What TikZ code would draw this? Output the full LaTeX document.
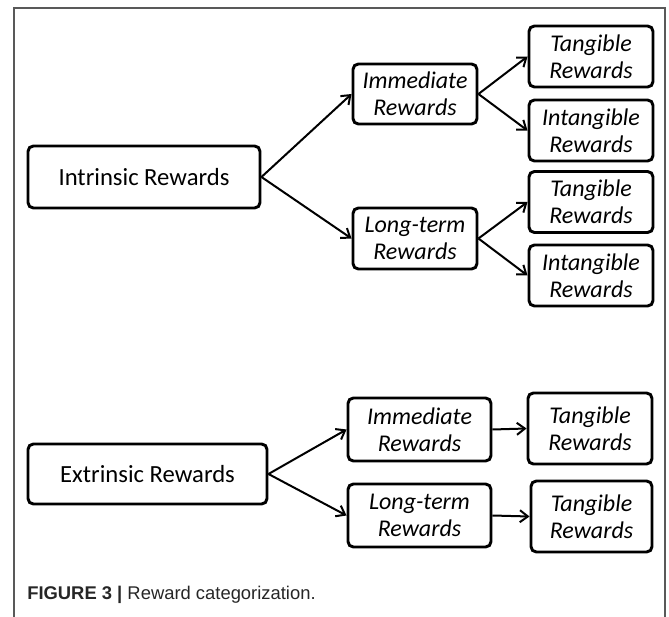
\documentclass[tikz,border=0pt]{standalone}
\usepackage{fontspec}
\setmainfont{Carlito}
\newfontfamily\capfont{Liberation Sans}
\usetikzlibrary{arrows.meta}

\begin{document}
\begin{tikzpicture}[x=0.75pt,y=-0.75pt,
	>={Straight Barb[length=6pt,width=9pt]},
	main node/.style = {rectangle,draw,rounded corners=4pt,line width=2.2pt,
		inner sep=0pt,font=\fontsize{18.5}{22}\selectfont},
	sub node/.style = {rectangle,draw,rounded corners=4pt,line width=2.2pt,
		inner sep=0pt,align=center,font=\fontsize{18}{20}\selectfont\itshape},
	link/.style = {->,line width=1.5pt}]
	
	\useasboundingbox (0,0) rectangle (669,617);
	\draw[gray!70!black,line width=1pt] (14,617)--(14,8)--(665,8)--(665,617);
	
	% intrinsic branch
	\node[main node,minimum width=174pt,minimum height=46.5pt] (intr) at (144,177) {Intrinsic Rewards};
	\node[sub node,minimum width=93pt,minimum height=45pt] (imm1) at (415,94) {Immediate\\Rewards};
	\node[sub node,minimum width=93pt,minimum height=45.75pt] (lt1) at (415,238.5) {Long-term\\Rewards};
	\node[sub node,minimum width=93pt,minimum height=45.75pt] (tan1) at (591,56.5) {Tangible\\Rewards};
	\node[sub node,minimum width=93pt,minimum height=45.75pt] (int1) at (591,130.5) {Intangible\\Rewards};
	\node[sub node,minimum width=93pt,minimum height=45.75pt] (tan2) at (591,202) {Tangible\\Rewards};
	\node[sub node,minimum width=93pt,minimum height=45.75pt] (int2) at (591,275.5) {Intangible\\Rewards};
	
	% extrinsic branch
	\node[main node,minimum width=179.25pt,minimum height=45pt] (extr) at (147.5,474) {Extrinsic Rewards};
	\node[sub node,minimum width=107.25pt,minimum height=47.25pt] (imm2) at (419.5,429.5) {Immediate\\Rewards};
	\node[sub node,minimum width=107.25pt,minimum height=47.25pt] (lt2) at (419.5,515.5) {Long-term\\Rewards};
	\node[sub node,minimum width=93pt,minimum height=53.25pt] (tan3) at (590,428.5) {Tangible\\Rewards};
	\node[sub node,minimum width=90.75pt,minimum height=53.25pt] (tan4) at (591.5,516.5) {Tangible\\Rewards};
	
	\draw[link] (intr.east)--(imm1.west);
	\draw[link] (intr.east)--(lt1.west);
	\draw[link] (imm1.east)--(tan1.west);
	\draw[link] (imm1.east)--(int1.west);
	\draw[link] (lt1.east)--(tan2.west);
	\draw[link] (lt1.east)--(int2.west);
	\draw[link] (extr.east)--(imm2.west);
	\draw[link] (extr.east)--(lt2.west);
	\draw[link] (imm2.east)--(tan3.west);
	\draw[link] (lt2.east)--(tan4.west);
	
	\node[anchor=west,inner sep=0pt,text=black!85,font=\capfont\fontsize{13.8}{16}\selectfont] (cap) at (27,595)
		{\textbf{FIGURE 3 |} Reward categorization.};
\end{tikzpicture}
\end{document}
